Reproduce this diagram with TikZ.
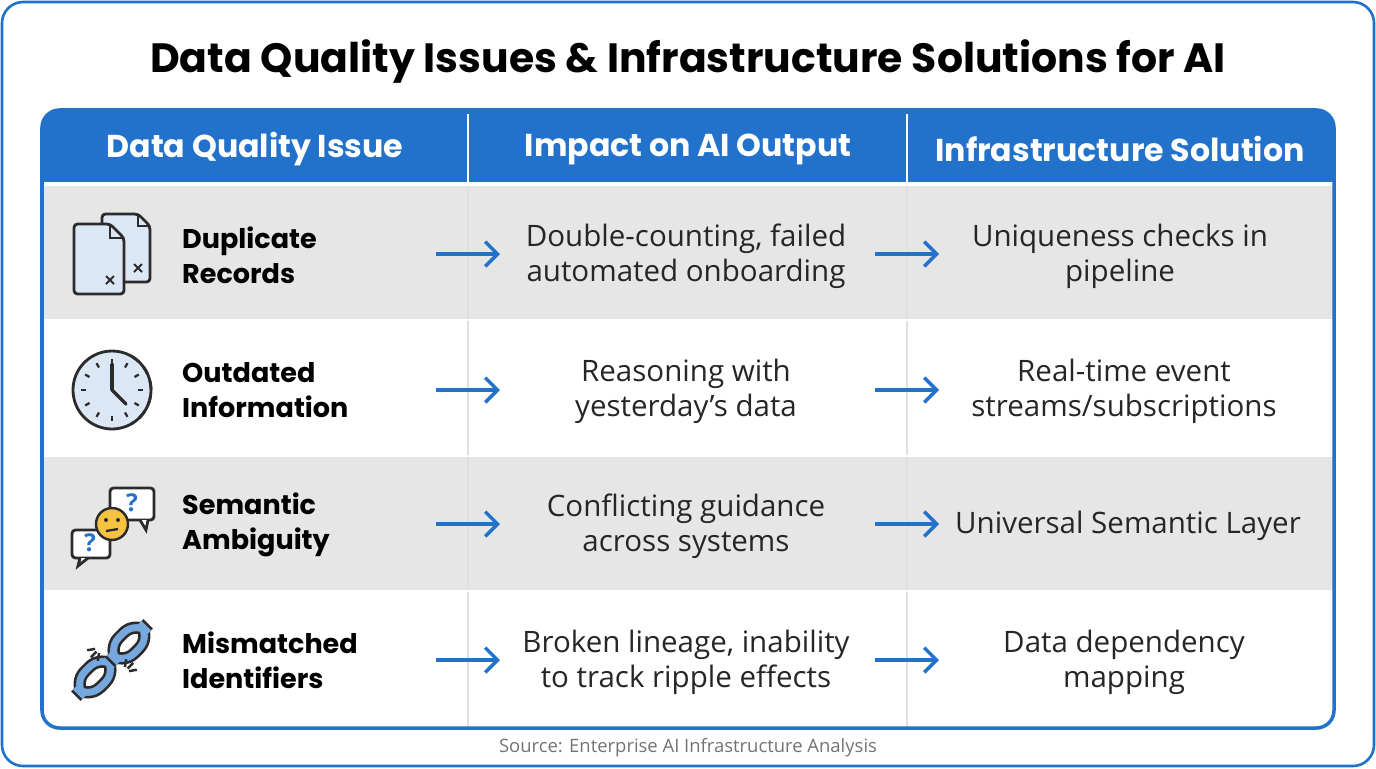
\documentclass[tikz,border=0pt]{standalone}
\usepackage{fontspec}
\setmainfont{Open Sans}
\newfontfamily\headfont{Poppins}
\usetikzlibrary{positioning,arrows.meta,calc}
\definecolor{mainblue}{HTML}{2272CC}
\definecolor{rowgray}{HTML}{E6E6E6}
\definecolor{iconfill}{HTML}{DCE7F5}
\definecolor{darkline}{HTML}{2B2B2B}
\definecolor{facey}{HTML}{F5C242}
\begin{document}
\begin{tikzpicture}[x=0.02cm,y=-0.02cm,
    cell/.style={font=\fontsize{16.8}{20}\selectfont, align=center, text=black!85},
    issue/.style={font=\headfont\bfseries\fontsize{15.4}{20}\selectfont, align=left, anchor=west},
    head/.style={font=\headfont\bfseries\fontsize{18}{22}\selectfont, text=white},
    flow/.style={-{Straight Barb[length=7pt,width=14pt]}, mainblue, line width=2pt},
    icon/.style={draw=darkline, line width=1.6pt, fill=iconfill, rounded corners=2pt}
]
  % frame
  \useasboundingbox (0,0) rectangle (1376,768);
  \draw[mainblue, line width=1.5pt, rounded corners=12pt] (2,2) rectangle (1374,766);
  \node[font=\headfont\bfseries\fontsize{23.3}{28}\selectfont] (title) at (688,62) {Data Quality Issues \& Infrastructure Solutions for AI};

  % table body
  \fill[rowgray] (42,184) rectangle (1334,320);
  \fill[rowgray] (42,456) rectangle (1334,591);
  \fill[mainblue, rounded corners=10pt] (42,110) rectangle (1334,184);
  \fill[mainblue] (42,160) rectangle (1334,184);
  \foreach \xx in {468,907}
    \draw[white!88!black, line width=1.5pt] (\xx,184) -- (\xx,728);
  \foreach \xx in {468,907}
    \draw[white, line width=1.5pt] (\xx,114) -- (\xx,184);
  \foreach \yy in {320,456,591}
    \draw[white, line width=1.5pt] (42,\yy) -- (1334,\yy);
  \draw[white, line width=2pt] (42,184) -- (1334,184);
  \draw[mainblue, line width=2pt, rounded corners=10pt] (42,110) rectangle (1334,728);

  % header
  \node[head] (h1) at (255,149) {Data Quality Issue};
  \node[head] (h2) at (688,149) {Impact on AI Output};
  \node[head] (h3) at (1120,149) {Infrastructure Solution};

  % rows
  \node[issue] (i1) at (176,255) {Duplicate\\Records};
  \node[issue] (i2) at (176,390) {Outdated\\Information};
  \node[issue] (i3) at (176,525) {Semantic\\Ambiguity};
  \node[issue] (i4) at (176,660) {Mismatched\\Identifiers};

  \node[cell] (m1) at (686,256) {Double-counting, failed\\automated onboarding};
  \node[cell] (m2) at (686,391) {Reasoning with\\yesterday's data};
  \node[cell] (m3) at (686,526) {Conflicting guidance\\across systems};
  \node[cell] (m4) at (686,662) {Broken lineage, inability\\to track ripple effects};

  \node[cell] (s1) at (1120,256) {Uniqueness checks in\\pipeline};
  \node[cell] (s2) at (1124,391) {Real-time event\\streams/subscriptions};
  \node[cell] (s3) at (1128,526) {Universal Semantic Layer};
  \node[cell] (s4) at (1124,662) {Data dependency\\mapping};

  % arrows
  \foreach \r/\yy in {1/254,2/390,3/524,4/660} {
    \coordinate (a\r) at (436,\yy);  \coordinate (b\r) at (500,\yy);
    \coordinate (c\r) at (875,\yy);  \coordinate (d\r) at (939,\yy);
    \draw[flow] (a\r) -- (b\r);
    \draw[flow] (c\r) -- (d\r);
  }

  % icon: duplicate records
  \draw[icon] (102,214) -- (138,214) -- (150,226) -- (150,282) -- (102,282) -- cycle;
  \draw[darkline, line width=1.4pt] (138,214) -- (138,226) -- (150,226);
  \draw[icon] (74,224) -- (110,224) -- (124,238) -- (124,294) -- (74,294) -- cycle;
  \draw[darkline, line width=1.4pt] (110,224) -- (110,238) -- (124,238);
  \draw[darkline, line width=1.2pt] (106,276) -- (114,284) (106,284) -- (114,276);
  \draw[darkline, line width=1.2pt] (134,264) -- (142,272) (134,272) -- (142,264);

  % icon: clock
  \coordinate (clk) at (112,390);
  \draw[darkline, line width=1.6pt, fill=iconfill] (clk) circle (39);
  \draw[darkline, line width=1.6pt, dash pattern=on 5pt off 4pt] ($(clk)+(-60:39)$) arc (-60:60:39);
  \foreach \a in {0,30,...,330}
    \draw[darkline, line width=1.3pt] ($(clk)+(\a:31)$) -- ($(clk)+(\a:26)$);
  \draw[darkline, line width=2pt, line cap=round] (clk) -- ++(0,-26) (clk) -- ++(14,14);

  % icon: semantic ambiguity
  \draw[icon, fill=white] (110,488) rectangle (154,520);
  \draw[darkline, line width=1.6pt, fill=white] (140,520) -- (146,530) -- (148,520);
  \node[font=\bfseries\fontsize{14}{14}\selectfont, text=mainblue] (q1) at (132,503) {?};
  \draw[icon, fill=white] (72,530) rectangle (110,558);
  \draw[darkline, line width=1.6pt, fill=white] (80,558) -- (78,566) -- (88,558);
  \node[font=\bfseries\fontsize{14}{14}\selectfont, text=mainblue] (q2) at (90,543) {?};
  \draw[darkline, line width=1.4pt, fill=facey] (112,524) circle (16);
  \fill[darkline] (106,520) circle (2) (118,520) circle (2);
  \draw[darkline, line width=1.3pt] (106,531) -- (118,529);

  % icon: broken chain
  \begin{scope}[shift={(112,660)}, rotate=45]
    \foreach \cx in {-24,24} {
      \draw[darkline, line width=7pt, rounded corners=10pt] (\cx-21,-11) rectangle (\cx+21,11);
      \draw[mainblue!55!iconfill, line width=4pt, rounded corners=10pt] (\cx-21,-11) rectangle (\cx+21,11);
    }
  \end{scope}
  \foreach \a in {100,135,170}
    \draw[darkline, line width=1.4pt] ($(100,648)+(\a:5)$) -- ($(100,648)+(\a:13)$);
  \foreach \a in {-80,-45,-10}
    \draw[darkline, line width=1.4pt] ($(124,672)+(\a:5)$) -- ($(124,672)+(\a:13)$);

  \node[font=\fontsize{10.5}{12}\selectfont, text=black!55] (src) at (688,748) {Source: Enterprise AI Infrastructure Analysis};
\end{tikzpicture}
\end{document}
